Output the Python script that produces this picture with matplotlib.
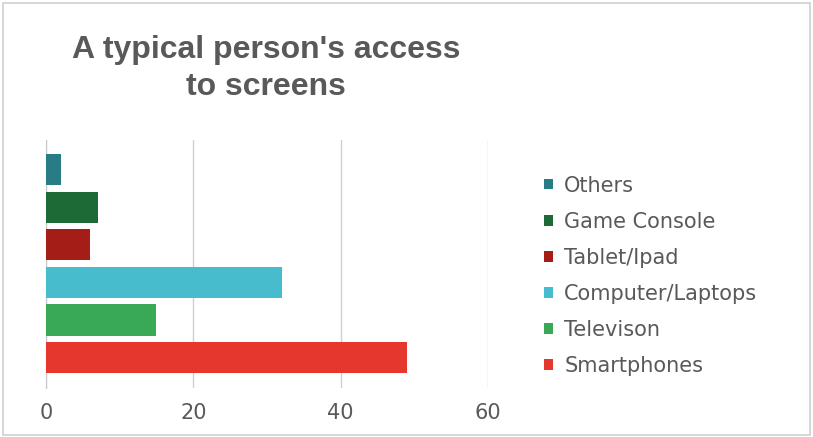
import matplotlib.pyplot as plt
from matplotlib.patches import Rectangle

plt.rcParams['font.family'] = ['DejaVu Sans']

# screen types, bottom to top
devices = ['Smartphones', 'Televison', 'Computer/Laptops', 'Tablet/Ipad', 'Game Console', 'Others']
values = [49, 15, 32, 6, 7, 2]
colors = ['#e5372d', '#39a955', '#47bccd', '#a51d17', '#1d6a36', '#277c86']
xticks = [0, 20, 40, 60]

txt = '#595959'

fig = plt.figure(figsize=(8.13, 4.37), dpi=100)
fig.patches.append(Rectangle((0.004, 0.004), 0.992, 0.99, transform=fig.transFigure,
                             fill=False, edgecolor='#d0d0d0', lw=1.2))

ax = fig.add_axes([0.0566, 0.112, 0.5434, 0.568])

bars = []
for i, (d, v, c) in enumerate(zip(devices, values, colors)):
    b = ax.barh(i, v, height=0.83, color=c, label=d, zorder=3)
    bars.append(b)

ax.set_xlim(0, 60)
ax.set_ylim(-0.81, 5.79)
ax.set_xticks(xticks)
ax.set_yticks([])
ax.xaxis.grid(True, color='#d0d0d0', lw=1, zorder=0)
for s in ['top', 'right', 'bottom']:
    ax.spines[s].set_visible(False)
ax.spines['left'].set_color('#c8c8c8')
ax.tick_params(axis='x', length=0, pad=11, labelsize=15, labelcolor=txt)

fig.text(0.327, 0.843, "A typical person's access\nto screens", ha='center', va='center',
         fontsize=23, fontweight='bold', color=txt, linespacing=1.32,
         family='Liberation Sans')

leg = ax.legend(handles=bars[::-1], labels=devices[::-1], loc='center left',
                bbox_to_anchor=(1.085, 0.453), frameon=False, fontsize=15,
                handlelength=0.42, handleheight=0.42, handletextpad=0.55,
                labelspacing=0.77, labelcolor=txt)

fig.savefig('out.png', dpi=100)
